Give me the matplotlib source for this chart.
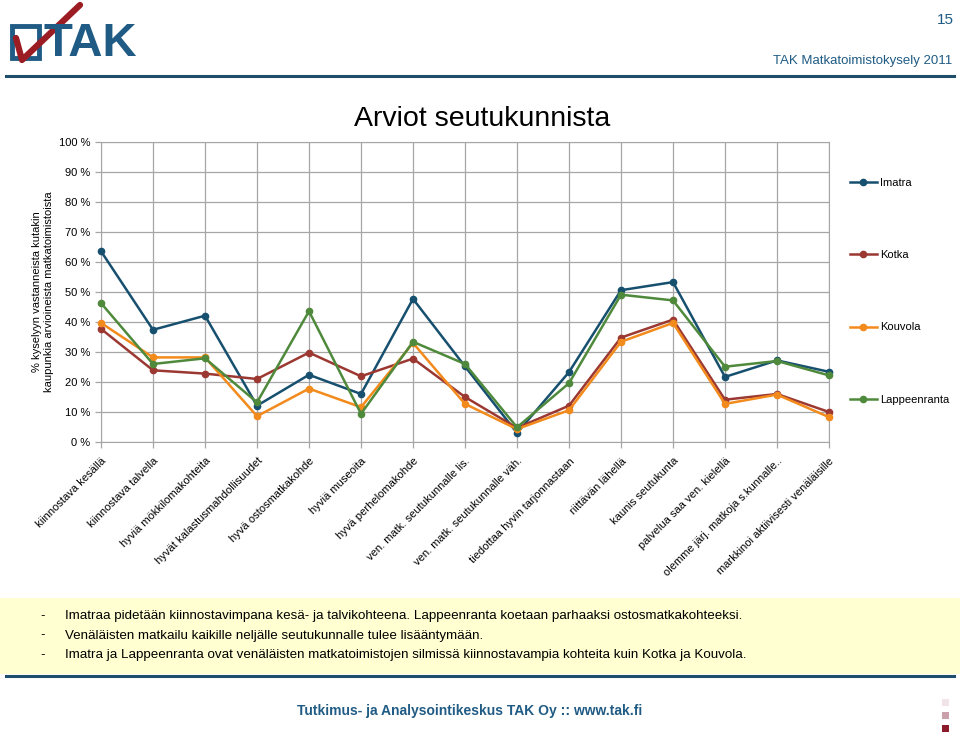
import matplotlib
matplotlib.use('Agg')
from matplotlib import pyplot as plt
from matplotlib.lines import Line2D
from matplotlib.patches import Rectangle

plt.rcParams['font.family'] = ['Liberation Sans', 'DejaVu Sans']

categories = ['kiinnostava kesällä', 'kiinnostava talvella', 'hyviä mökkilomakohteita',
              'hyvät kalastusmahdollisuudet', 'hyvä ostosmatkakohde', 'hyviä museoita',
              'hyvä perhelomakohde', 'ven. matk. seutukunnalle lis.', 'ven. matk. seutukunnalle väh.',
              'tiedottaa hyvin tarjonnastaan', 'riittävän lähellä', 'kaunis seutukunta',
              'palvelua saa ven. kielellä', 'olemme järj. matkoja s.kunnalle..',
              'markkinoi aktiivisesti venäläisille']

imatra = [63.6, 37.4, 42.1, 12.1, 22.4, 16.0, 47.7, 25.2, 3.0, 23.3, 50.6, 53.3, 21.7, 27.2, 23.4]
kotka = [37.7, 23.9, 22.8, 21.0, 29.8, 21.9, 27.8, 15.0, 4.7, 12.1, 34.8, 40.8, 14.1, 16.0, 10.0]
kouvola = [39.7, 28.2, 28.2, 8.6, 17.8, 11.6, 33.0, 12.7, 4.3, 10.6, 33.4, 39.7, 12.7, 15.8, 8.3]
lappeenranta = [46.3, 26.0, 27.9, 13.2, 43.6, 9.4, 33.4, 26.0, 4.9, 19.6, 49.1, 47.2, 25.1, 27.0, 22.2]

series = [('Imatra', imatra, '#17506f'),
          ('Kotka', kotka, '#9c3832'),
          ('Kouvola', kouvola, '#f28a1c'),
          ('Lappeenranta', lappeenranta, '#4f8a3c')]

notes = ['Imatraa pidetään kiinnostavimpana kesä- ja talvikohteena. Lappeenranta koetaan parhaaksi ostosmatkakohteeksi.',
         'Venäläisten matkailu kaikille neljälle seutukunnalle tulee lisääntymään.',
         'Imatra ja Lappeenranta ovat venäläisten matkatoimistojen silmissä kiinnostavampia kohteita kuin Kotka ja Kouvola.']

fig = plt.figure(figsize=(9.6, 7.34), dpi=100)
ax = fig.add_axes([101/960, 1-442/734, 728/960, 300/734])

x = list(range(len(categories)))
for name, vals, col in series:
    ax.plot(x, vals, color=col, lw=1.8, marker='o', ms=4.5, label=name, clip_on=False, zorder=3)

ax.set_xlim(0, len(categories)-1)
ax.set_ylim(0, 100)
ax.set_yticks(range(0, 101, 10))
ax.set_yticklabels(['%d %%' % v for v in range(0, 101, 10)], fontsize=8)
ax.set_xticks(x)
ax.set_xticklabels(categories, rotation=45, ha='right', rotation_mode='anchor', fontsize=8)
ax.grid(True, color='#a6a6a6', lw=0.9)
ax.set_axisbelow(True)
for s in ax.spines.values():
    s.set_color('#a6a6a6')
ax.tick_params(axis='both', colors='#a6a6a6', labelcolor='black', length=4, width=0.9)
ax.tick_params(axis='x', pad=6)

ax.set_ylabel('% kyselyyn vastanneista kutakin\nkaupunkia arvioineista matkatoimistoista',
              fontsize=8, labelpad=4, linespacing=1.15)

fig.text(482/960, 1-119/734, 'Arviot seutukunnista', fontsize=20.5, ha='center', va='center')

fig.legend(loc='upper left', bbox_to_anchor=(840/960, 1-168/734), frameon=False,
           fontsize=8, labelspacing=5.6, handlelength=2.4, handletextpad=0.3)

# header
fig.text(945/960, 1-20/734, '15', fontsize=11, color='#1f5b84', ha='center', va='center')
fig.text(952/960, 1-61/734, 'TAK Matkatoimistokysely 2011', fontsize=9.5, color='#1f5b84',
         ha='right', va='center')
fig.add_artist(Line2D([6/960, 954/960], [1-76/734, 1-76/734], color='#1f4e6b', lw=2.2))
fig.text(43/960, 1-44/734, 'TAK', fontsize=34, fontweight='bold', color='#1f5b84',
         ha='left', va='center')
fig.add_artist(Rectangle((12/960, 1-58/734), 27/960, 32/734, fill=False,
                         edgecolor='#1f5b84', lw=3.5))
fig.add_artist(Line2D([16/960, 22/960, 80/960], [1-38/734, 1-60/734, 1-5/734],
                      color='#9b1c22', lw=4.5, solid_capstyle='round'))

# yellow notes box
fig.add_artist(Rectangle((0, 1-674/734), 1, 76/734, facecolor='#ffffd2', edgecolor='none'))
for i, t in enumerate(notes):
    yy = 1-(616+19.5*i)/734
    fig.text(43/960, yy, '-', fontsize=9.6, ha='center', va='center')
    fig.text(65/960, yy, t, fontsize=9.6, ha='left', va='center')
fig.add_artist(Line2D([6/960, 954/960], [1-676/734, 1-676/734], color='#1f4e6b', lw=2.2))

# footer
fig.text(470/960, 1-711/734, 'Tutkimus- ja Analysointikeskus TAK Oy :: www.tak.fi',
         fontsize=10, fontweight='bold', color='#1f5b84', ha='center', va='center')
for yy, c in [(702, '#f1e4e8'), (715, '#caa0aa'), (728, '#8b1a2a')]:
    fig.add_artist(Rectangle((942/960, 1-(yy+4)/734), 7/960, 7/734, facecolor=c, edgecolor='none'))

fig.savefig('out.png', dpi=100)
